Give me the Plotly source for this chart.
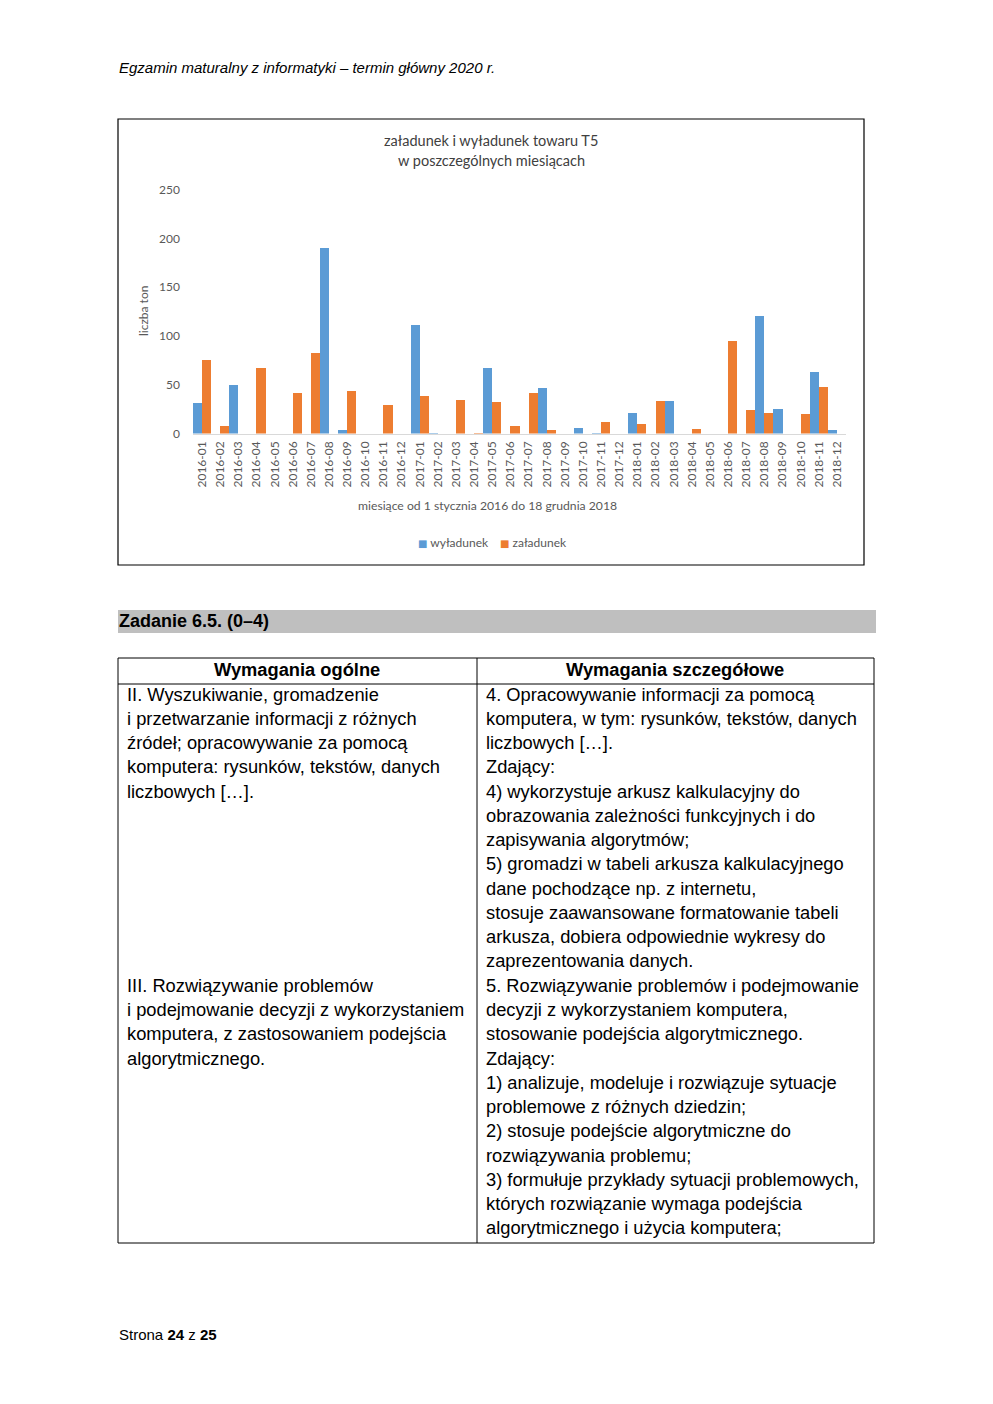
import plotly.graph_objects as go

W, H = 993, 1404

months = [f"{y}-{m:02d}" for y in (2016, 2017, 2018) for m in range(1, 13)]
wyladunek = [32, 0, 50, 0, 0, 0, 0, 191, 4, 0, 0, 0,
             112, 1, 0, 0, 68, 0, 0, 47, 0, 6, 1, 0,
             22, 0, 34, 0, 0, 0, 0, 121, 26, 0, 64, 4]
zaladunek = [76, 8, 0, 68, 0, 42, 83, 0, 44, 0, 30, 0,
             39, 0, 35, 1, 33, 8, 42, 4, 0, 0, 12, 0,
             10, 34, 0, 5, 0, 95, 25, 22, 0, 20, 48, 0]
y_ticks = [0, 50, 100, 150, 200, 250]

chart_title = ["załadunek i wyładunek towaru T5", "w poszczególnych miesiącach"]
y_title = "liczba ton"
x_title = "miesiące od 1 stycznia 2016 do 18 grudnia 2018"

header_text = "Egzamin maturalny z informatyki – termin główny 2020 r."
task_title = "Zadanie 6.5. (0–4)"
col_headers = ["Wymagania ogólne", "Wymagania szczegółowe"]
left_block1 = ["II. Wyszukiwanie, gromadzenie",
               "i przetwarzanie informacji z różnych",
               "źródeł; opracowywanie za pomocą",
               "komputera: rysunków, tekstów, danych",
               "liczbowych […]."]
left_block2 = ["III. Rozwiązywanie problemów",
               "i podejmowanie decyzji z wykorzystaniem",
               "komputera, z zastosowaniem podejścia",
               "algorytmicznego."]
right_lines = ["4. Opracowywanie informacji za pomocą",
               "komputera, w tym: rysunków, tekstów, danych",
               "liczbowych […].",
               "Zdający:",
               "4) wykorzystuje arkusz kalkulacyjny do",
               "obrazowania zależności funkcyjnych i do",
               "zapisywania algorytmów;",
               "5) gromadzi w tabeli arkusza kalkulacyjnego",
               "dane pochodzące np. z internetu,",
               "stosuje zaawansowane formatowanie tabeli",
               "arkusza, dobiera odpowiednie wykresy do",
               "zaprezentowania danych.",
               "5. Rozwiązywanie problemów i podejmowanie",
               "decyzji z wykorzystaniem komputera,",
               "stosowanie podejścia algorytmicznego.",
               "Zdający:",
               "1) analizuje, modeluje i rozwiązuje sytuacje",
               "problemowe z różnych dziedzin;",
               "2) stosuje podejście algorytmiczne do",
               "rozwiązywania problemu;",
               "3) formułuje przykłady sytuacji problemowych,",
               "których rozwiązanie wymaga podejścia",
               "algorytmicznego i użycia komputera;"]
footer_text = "Strona <b>24</b> z <b>25</b>"


def px(x):
    return x / W


def py(y):
    return 1 - y / H


CHART_FONT = "Lato, 'Open Sans', sans-serif"
PAGE_FONT = "'Liberation Sans', Arial, sans-serif"
GREY = "#595959"
BLUE, ORANGE = "#5B9BD5", "#ED7D31"

fig = go.Figure()
fig.add_trace(go.Bar(x=months, y=wyladunek, name="wyładunek", marker_color=BLUE,
                     marker_line_width=0, showlegend=False))
fig.add_trace(go.Bar(x=months, y=zaladunek, name="załadunek", marker_color=ORANGE,
                     marker_line_width=0, showlegend=False))
# legend entries: small coloured square key placed right next to the label (Excel style)
for name, col, leg in (("wyładunek", BLUE, "legend"), ("załadunek", ORANGE, "legend2")):
    fig.add_trace(go.Scatter(
        x=[None], y=[None], mode="markers", legend=leg,
        name=f"<span style='color:{col};font-size:10px;font-family:DejaVu Sans'>■</span> {name}",
        marker=dict(symbol="square", size=1, color="rgba(0,0,0,0)",
                    line=dict(width=0, color="rgba(0,0,0,0)"))))

annotations = []


def txt(x, y, text, size, color="black", font=PAGE_FONT, xanchor="left", angle=0):
    annotations.append(dict(x=px(x), y=py(y), xref="paper", yref="paper", text=text,
                            showarrow=False, xanchor=xanchor, yanchor="middle",
                            textangle=angle, borderpad=0,
                            font=dict(family=font, size=size, color=color)))


TS = 18.3
txt(118, 68, f"<i>{header_text}</i>", 15)
txt(491, 141, chart_title[0], 14.5, "#404040", CHART_FONT, "center")
txt(491, 160, chart_title[1], 14.5, "#404040", CHART_FONT, "center")
txt(143, 311, y_title, 12, GREY, CHART_FONT, "center", -90)
txt(487, 505, x_title, 12.2, GREY, CHART_FONT, "center")
txt(118, 621, f"<b>{task_title}</b>", 18)
txt(297, 670, f"<b>{col_headers[0]}</b>", TS, xanchor="center")
txt(675, 670, f"<b>{col_headers[1]}</b>", TS, xanchor="center")
LINE0, STEP = 694, 24.27
for i, t in enumerate(left_block1):
    txt(126, LINE0 + i * STEP, t, TS)
for i, t in enumerate(left_block2):
    txt(126, LINE0 + (12 + i) * STEP, t, TS)
for i, t in enumerate(right_lines):
    txt(485, LINE0 + i * STEP, t, TS)
txt(118, 1334, footer_text, 15)

shapes = [
    dict(type="rect", xref="paper", yref="paper", x0=px(118), x1=px(864), y0=py(119), y1=py(565),
         line=dict(color="black", width=1.2), layer="below"),
    dict(type="rect", xref="paper", yref="paper", x0=px(118), x1=px(876), y0=py(610), y1=py(633),
         line=dict(width=0), fillcolor="#BFBFBF", layer="below"),
    dict(type="rect", xref="paper", yref="paper", x0=px(118), x1=px(874), y0=py(658), y1=py(1243),
         line=dict(color="black", width=1)),
    dict(type="line", xref="paper", yref="paper", x0=px(118), x1=px(874), y0=py(684), y1=py(684),
         line=dict(color="black", width=1)),
    dict(type="line", xref="paper", yref="paper", x0=px(477), x1=px(477), y0=py(658), y1=py(1243),
         line=dict(color="black", width=1)),
]

legend_style = dict(orientation="h", xanchor="left", yanchor="middle",
                    font=dict(family=CHART_FONT, size=12, color=GREY), itemwidth=30,
                    tracegroupgap=0, bgcolor="rgba(0,0,0,0)")

fig.update_layout(
    width=W, height=H,
    margin=dict(l=0, r=0, t=0, b=0, autoexpand=False),
    paper_bgcolor="white", plot_bgcolor="white",
    barmode="group", bargap=0.0, bargroupgap=0.0,
    showlegend=True,
    legend=dict(x=px(378), y=py(542), **legend_style),
    legend2=dict(x=px(460), y=py(542), **legend_style),
    annotations=annotations,
    shapes=shapes,
    xaxis=dict(domain=[px(193), px(846)], anchor="y", type="category",
               tickangle=-90, tickfont=dict(family=CHART_FONT, size=12, color=GREY),
               showgrid=False, showline=True, linecolor="#D9D9D9", linewidth=1,
               ticks="", ticklabelstandoff=2, zeroline=False, fixedrange=True),
    yaxis=dict(domain=[py(433.5), py(189.5)], anchor="x", range=[0, 250],
               tickvals=y_ticks, tickfont=dict(family=CHART_FONT, size=12, color=GREY),
               showgrid=False, showline=False, zeroline=False, ticks="",
               ticklabelstandoff=12, fixedrange=True),
)

fig.write_html(
    "out.html",
    config={"displayModeBar": False},
    post_script="document.documentElement.style.margin='0';document.body.style.margin='0';"
                "document.body.style.padding='0';document.documentElement.style.overflow='hidden';"
                "document.body.style.overflow='hidden';",
)
